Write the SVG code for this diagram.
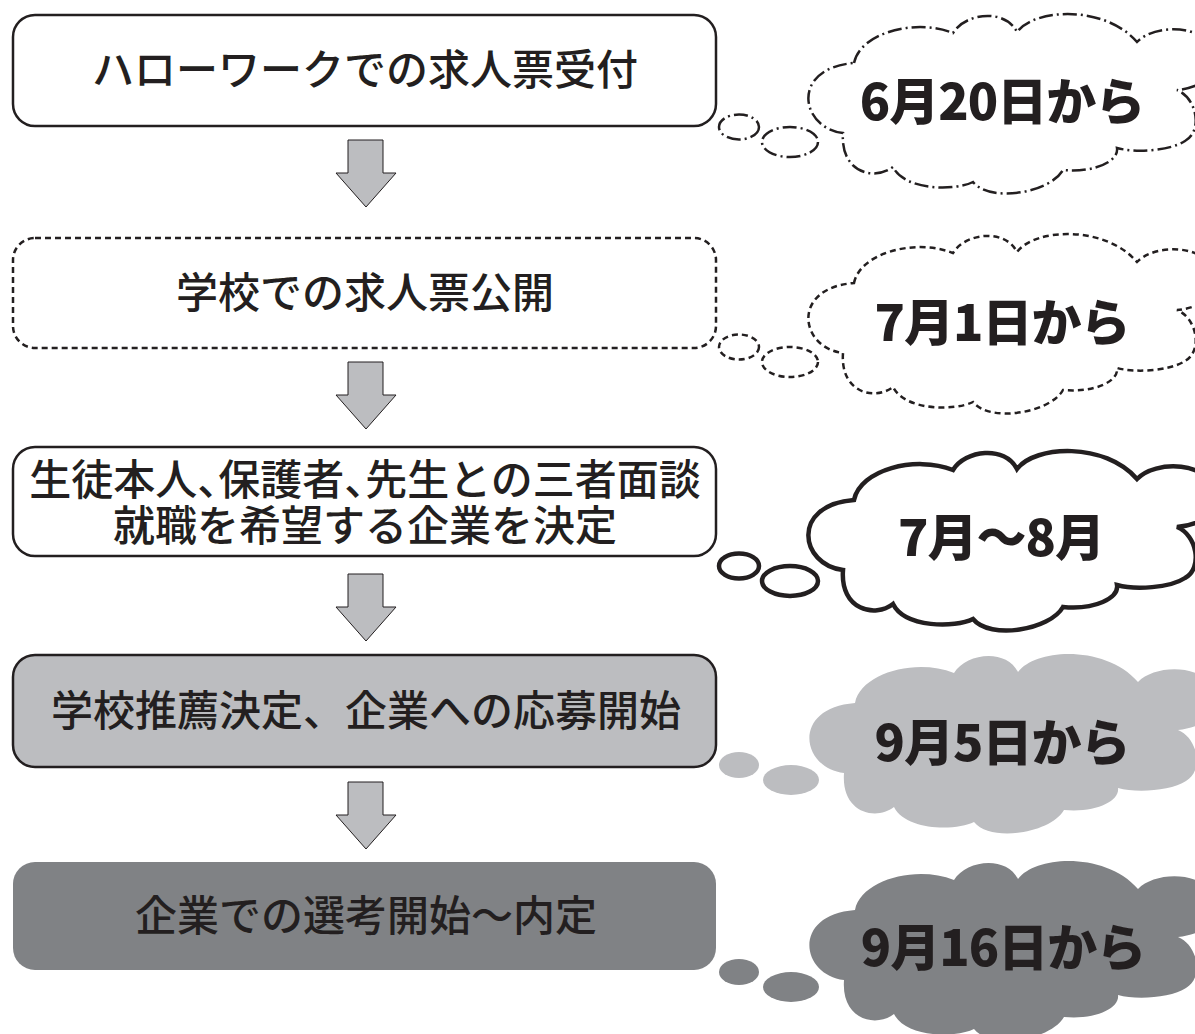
<svg xmlns="http://www.w3.org/2000/svg" xmlns:xlink="http://www.w3.org/1999/xlink" width="1195" height="1034" viewBox="0 0 1195 1034">
<style>
.box{stroke:#231f20;stroke-width:2.5;fill:#fff}
.t{font-family:"Noto Sans CJK JP","Noto Sans CJK SC",sans-serif;font-size:42px;font-weight:500;fill:#231f20;text-anchor:middle}
.ct{font-family:"Noto Sans CJK JP","Noto Sans CJK SC",sans-serif;font-size:50px;font-weight:900;letter-spacing:-1px;fill:#231f20;text-anchor:middle}
.arrow{fill:#bcbdc0;stroke:#231f20;stroke-width:1}
.dashdot{fill:#fff;stroke:#231f20;stroke-width:2.5;stroke-dasharray:14 4 2 4}
.dashed{fill:#fff;stroke:#231f20;stroke-width:2.5;stroke-dasharray:6 4}
.solid{fill:#fff;stroke:#231f20;stroke-width:4.5}
.lgray{fill:#bcbdc0;stroke:none}
.dgray{fill:#808285;stroke:none}
</style>
<defs>
<path id="cloud" d="M49,50 C55,20 110,5 148,20 C160,0 200,-5 212,19 C230,-5 300,-8 332,29 C350,10 405,10 412,45 C415,62 395,75 372,77 C392,85 398,118 380,128 C365,138 330,140 312,135 C314,148 290,160 258,157 C245,180 185,190 168,169 C150,178 100,178 88,154 C70,168 35,160 38,120 C-5,115 -15,55 49,50 Z"/>
</defs>

<g id="connectors">
<polygon class="arrow" points="348,140 383,140 383,173 396,173 366,207 336,173 348,173"/>
<polygon class="arrow" points="348,362 383,362 383,395 396,395 366,429 336,395 348,395"/>
<polygon class="arrow" points="348,574 383,574 383,607 396,607 366,641 336,607 348,607"/>
<polygon class="arrow" points="348,782 383,782 383,815 396,815 366,849 336,815 348,815"/>
</g>

<g id="step1">
<rect class="box" x="13" y="15" width="703" height="111" rx="22"/>
<text class="t" x="365" y="85">ハローワークでの求人票受付</text>
</g>
<g id="step2">
<rect class="box" x="13" y="238" width="703" height="110" rx="22" stroke-dasharray="6 4"/>
<text class="t" x="365" y="308">学校での求人票公開</text>
</g>
<g id="step3">
<rect class="box" x="13" y="447" width="703" height="109" rx="22" stroke-width="4.5"/>
<text class="t" x="365" y="495">生徒本人、<tspan dx="-21">保護者、</tspan><tspan dx="-21">先生との三者面談</tspan></text>
<text class="t" x="365" y="541">就職を希望する企業を決定</text>
</g>
<g id="step4">
<rect class="box" x="13" y="655" width="703" height="112" rx="22" style="fill:#bcbdc0"/>
<text class="t" x="366" y="726">学校推薦決定、企業への応募開始</text>
</g>
<g id="step5">
<rect x="13" y="862" width="703" height="108" rx="22" fill="#808285"/>
<text class="t" x="366" y="931">企業での選考開始～内定</text>
</g>

<g id="cloud1">
<ellipse class="dashdot" cx="739" cy="127" rx="20" ry="12.5"/>
<ellipse class="dashdot" cx="790" cy="142" rx="28" ry="15"/>
<use xlink:href="#cloud" href="#cloud" class="dashdot" transform="translate(805,13)"/>
<text class="ct" x="1002" y="120">6月20日から</text>
</g>
<g id="cloud2">
<ellipse class="dashed" cx="739" cy="347" rx="20" ry="12.5"/>
<ellipse class="dashed" cx="790" cy="362" rx="28" ry="15"/>
<use xlink:href="#cloud" href="#cloud" class="dashed" transform="translate(805,233)"/>
<text class="ct" x="1002" y="341">7月1日から</text>
</g>
<g id="cloud3">
<ellipse class="solid" cx="739" cy="566" rx="20" ry="12.5"/>
<ellipse class="solid" cx="790" cy="581" rx="28" ry="15"/>
<use xlink:href="#cloud" href="#cloud" class="solid" transform="translate(805,450)"/>
<text class="ct" x="1001" y="556">7月～8月</text>
</g>
<g id="cloud4">
<ellipse class="lgray" cx="739" cy="765" rx="20" ry="13"/>
<ellipse class="lgray" cx="791" cy="780" rx="28" ry="15"/>
<use xlink:href="#cloud" href="#cloud" class="lgray" transform="translate(806,653)"/>
<text class="ct" x="1002" y="761">9月5日から</text>
</g>
<g id="cloud5">
<ellipse class="dgray" cx="739" cy="972" rx="20" ry="13"/>
<ellipse class="dgray" cx="791" cy="987" rx="28" ry="15"/>
<use xlink:href="#cloud" href="#cloud" class="dgray" transform="translate(806,860)"/>
<text class="ct" x="1003" y="966">9月16日から</text>
</g>
</svg>
